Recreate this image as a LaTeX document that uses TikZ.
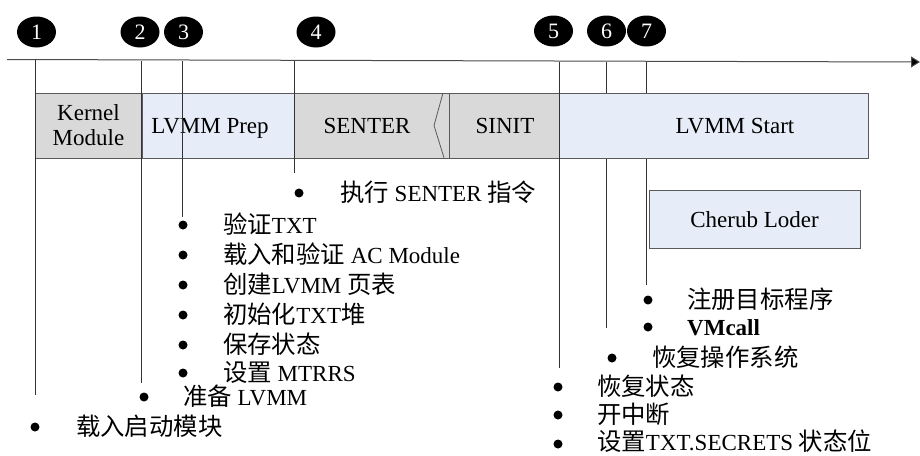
\documentclass[tikz,border=0pt]{standalone}
\usepackage{fontspec}
\setmainfont{Liberation Serif}
\newfontfamily\cjk{Noto Sans CJK SC}[Scale=1.06]
\usetikzlibrary{arrows.meta,shapes.geometric}
\newcommand\zh[1]{{\cjk #1}}
\definecolor{boxgray}{HTML}{D9D9D9}
\definecolor{boxblue}{HTML}{E6EDF8}
\definecolor{edge}{HTML}{5A5A5A}
\begin{document}
\begin{tikzpicture}[x=1pt,y=-1pt,font=\fontsize{23}{25}\selectfont,
  num/.style={ellipse,fill=black,text=white,minimum width=39pt,minimum height=31pt,inner sep=0pt,font=\fontsize{22}{22}\selectfont},
  vline/.style={draw=black!80,line width=0.8pt},
  gbox/.style={draw=edge,fill=boxgray,line width=0.8pt,inner sep=0pt,outer sep=0pt,anchor=north west,minimum height=65pt},
  bbox/.style={draw=edge,fill=boxblue,line width=0.8pt,inner sep=0pt,outer sep=0pt,anchor=north west,minimum height=65pt},
  bul/.style={circle,fill=black,inner sep=0pt,minimum size=9pt},
  item/.style={anchor=base west,inner sep=0pt},
  lab/.style={anchor=base,inner sep=0pt}]
\useasboundingbox (0,0) rectangle (920,455);
% number markers
\node[num] (c1) at (36.5,32) {1};
\node[num] (c2) at (140,32) {2};
\node[num] (c3) at (183.5,32) {3};
\node[num] (c4) at (316,32) {4};
\node[num] (c5) at (553.5,31) {5};
\node[num] (c6) at (606.5,31) {6};
\node[num] (c7) at (646.5,31) {7};
% timeline
\coordinate (tl0) at (7,59.5);
\coordinate (tl1) at (920,62);
\draw[draw=black!70,line width=1pt,-{Triangle[length=9pt,width=11pt,fill=black]}] (tl0) -- (tl1);
% vertical line endpoints
\coordinate (t1) at (35,60);   \coordinate (b1) at (35,395);
\coordinate (t2) at (141.7,61); \coordinate (b2) at (141.7,383);
\coordinate (t3) at (182,61);  \coordinate (b3) at (182,217);
\coordinate (t4) at (294,61);  \coordinate (b4) at (294,173);
\coordinate (t5) at (559,61.5);  \coordinate (b5) at (559,368);
\coordinate (t6) at (606,61.5);  \coordinate (b6) at (606,328);
\coordinate (t7) at (646,61.5);  \coordinate (b7) at (646,285);
\draw[vline] (t6) -- (b6);
\draw[vline] (t7) -- (b7);
% bar
\node[gbox,minimum width=107pt] (km) at (35,93) {};
\node[bbox,minimum width=152pt] (prep) at (142,93) {};
\node[gbox,minimum width=155pt] (senter) at (294,93) {};
\node[gbox,minimum width=110pt] (sinit) at (449,93) {};
\node[bbox,minimum width=309pt] (start) at (559,93) {};
\draw[edge,line width=0.8pt] (442.7,94) -- (434,125.5) -- (444,157.7);
\node[lab,align=center,anchor=center] (kmt) at (88.5,125.5) {Kernel\\Module};
\node[lab] (prept) at (210,133) {LVMM Prep};
\node[lab] (sentert) at (367,133) {SENTER};
\node[lab] (sinitt) at (505,133) {SINIT};
\node[lab] (startt) at (735,133) {LVMM Start};
% vertical lines on top
\draw[vline] (t1) -- (b1);
\draw[vline] (t2) -- (b2);
\draw[vline] (t3) -- (b3);
\draw[vline] (t4) -- (b4);
\draw[vline] (t5) -- (b5);
% cherub loder
\node[draw=edge,fill=boxblue,line width=0.8pt,minimum width=211pt,minimum height=58pt,inner sep=0pt] (cherub) at (754.5,219) {};
\node[lab] (cherubt) at (754.5,227) {Cherub Loder};
% bullet items
\node[bul] (d4) at (299,193) {};
\node[item] (i4) at (340,201) {\zh{执行} SENTER \zh{指令}};
\node[bul] (d3a) at (183,225) {};
\node[item] (i3a) at (223,233) {\zh{验证}TXT};
\node[bul] (d3b) at (183,255) {};
\node[item] (i3b) at (223,263) {\zh{载入和验证} AC Module};
\node[bul] (d3c) at (183,285) {};
\node[item] (i3c) at (223,293) {\zh{创建}LVMM \zh{页表}};
\node[bul] (d3d) at (183,315) {};
\node[item] (i3d) at (223,323) {\zh{初始化}TXT\zh{堆}};
\node[bul] (d3e) at (183,345) {};
\node[item] (i3e) at (223,353) {\zh{保存状态}};
\node[bul] (d3f) at (183,373) {};
\node[item] (i3f) at (223,381) {\zh{设置} MTRRS};
\node[bul] (d2) at (144,397) {};
\node[item] (i2) at (183,405) {\zh{准备} LVMM};
\node[bul] (d1) at (35,427) {};
\node[item] (i1) at (76,435) {\zh{载入启动模块}};
\node[bul] (d7a) at (648,300) {};
\node[item] (i7a) at (687,308) {\zh{注册目标程序}};
\node[bul] (d7b) at (648,327) {};
\node[item,font=\fontsize{23}{25}\selectfont\bfseries] (i7b) at (687,335) {VMcall};
\node[bul] (d6) at (612,358) {};
\node[item] (i6) at (652,366) {\zh{恢复操作系统}};
\node[bul] (d5a) at (558,387) {};
\node[item] (i5a) at (597,395) {\zh{恢复状态}};
\node[bul] (d5b) at (558,415) {};
\node[item] (i5b) at (597,423) {\zh{开中断}};
\node[bul] (d5c) at (558,444) {};
\node[item] (i5c) at (597,450.5) {\zh{设置}TXT.SECRETS \zh{状态位}};
\end{tikzpicture}
\end{document}
